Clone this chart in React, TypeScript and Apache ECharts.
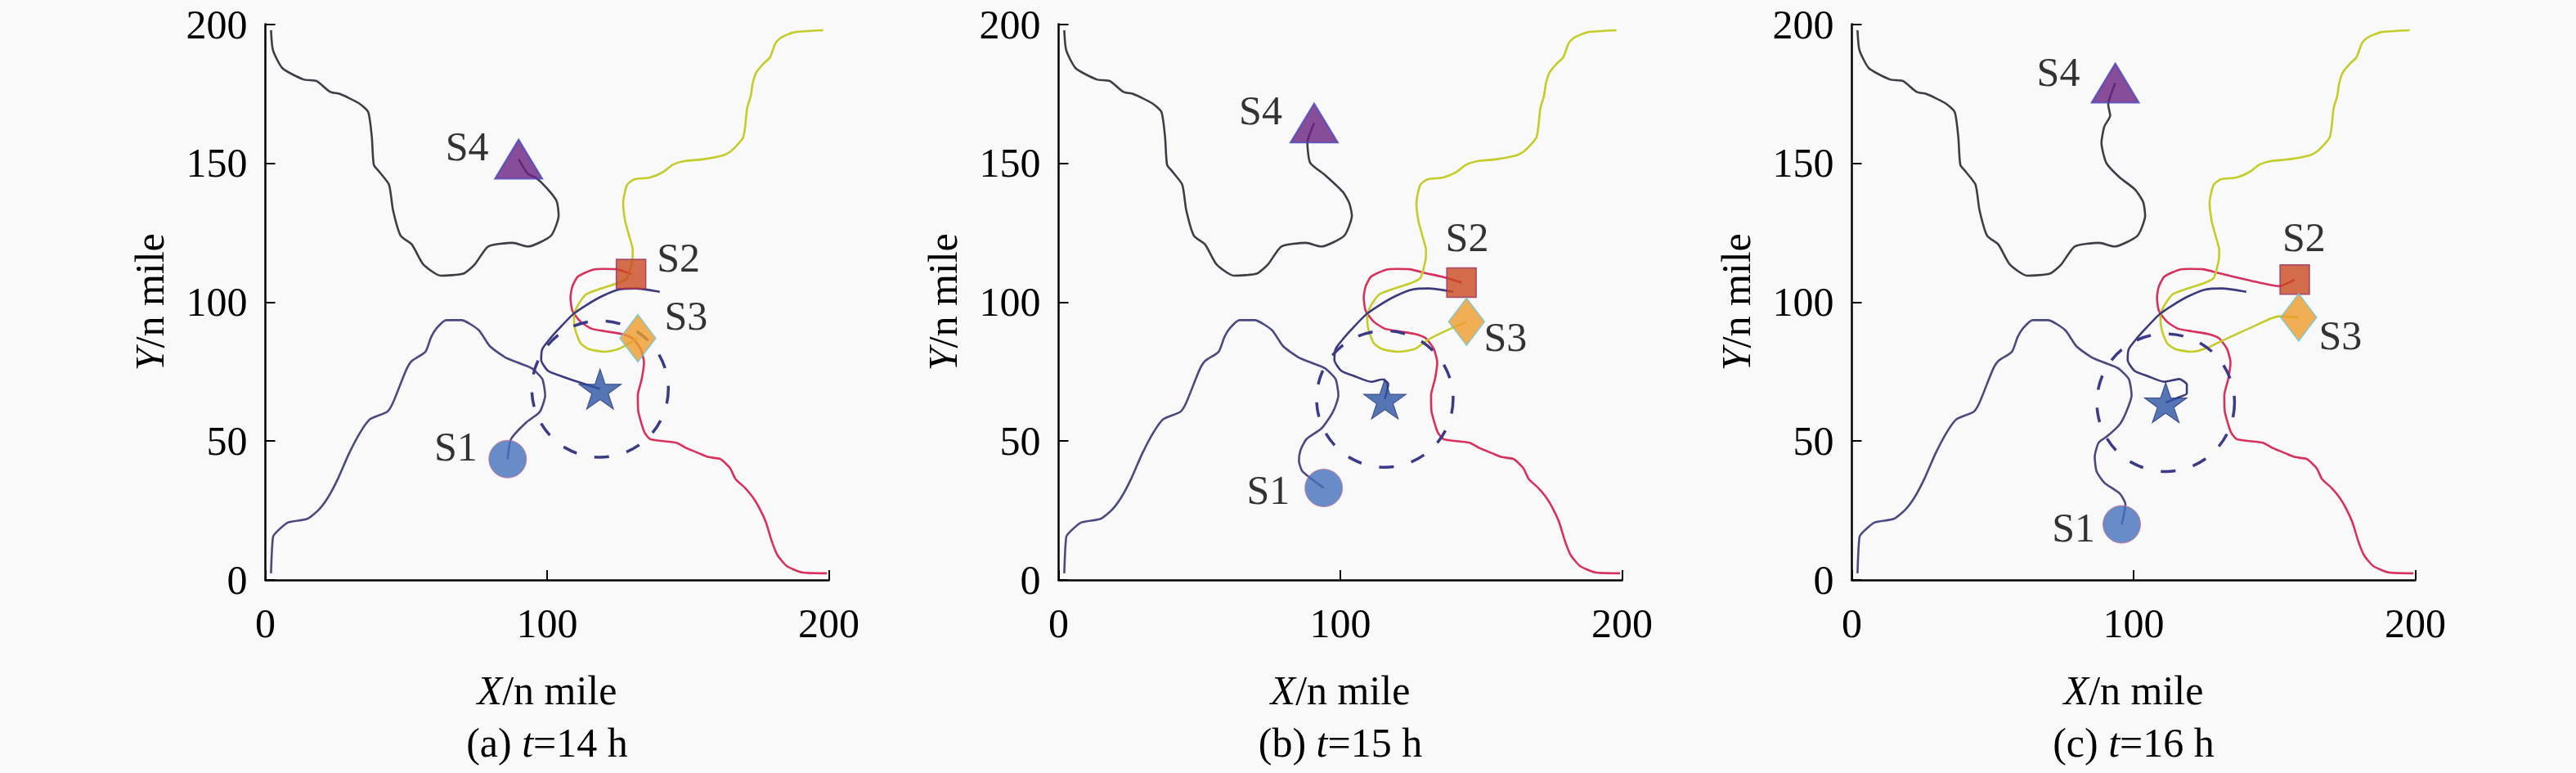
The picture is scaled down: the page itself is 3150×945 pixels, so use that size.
import React, { useEffect, useRef } from 'react';
import * as echarts from 'echarts';

// ---------------- data ----------------
const panelTags = ['(a)', '(b)', '(c)'];
const panelHours = ['14', '15', '16'];
const xTickMax = 200;
const yTickMax = 200;

// S4 trajectory (dark grey, from top-left)
const s4Base: number[][] = [[2, 197.8], [2.7, 190.6], [6.1, 184.1], [13.5, 180.1], [18.2, 179.5], [23, 175.6], [26.4, 174.9], [33.1, 171.6], [36.5, 168.4], [37.8, 159.2], [38.5, 149.4], [40.5, 146.8], [43.9, 142.2], [45.3, 133.1], [48, 123.9], [52, 120.7], [56.1, 113.5], [62.2, 109.5], [70.3, 110.2], [74.3, 113.5], [79.1, 120], [87.8, 121.3], [93.2, 120], [101.4, 123.9], [104.1, 131.1]];
const s4Tail: number[][][] = [
  [[103.4, 136.3], [100, 140.9], [95.9, 144.8], [93.2, 146.1], [89.9, 151.4]],
  [[103.2, 135.5], [100.9, 139.6], [94.8, 145.5], [89.3, 150.1], [88.3, 157.3], [90.7, 164.4]],
  [[103.4, 136], [100.5, 140.5], [95.1, 144.8], [90.3, 150.1], [88.6, 157.3], [89.6, 163.1], [91.7, 167.1], [91, 171], [93.5, 178.8]],
];

// S1 trajectory (blue-grey, from bottom-left)
const s1Base: number[][] = [[2, 2.4], [2.7, 15.4], [4.1, 17.4], [8.1, 20.7], [14.9, 22], [18.9, 25.2], [22.3, 29.8], [25.7, 36.3], [29.7, 45.5], [33.8, 53.3], [37.2, 57.9], [43.2, 60.5], [45.3, 63.8], [50, 75.6], [52, 78.8], [56.8, 82.1], [58.8, 87.3], [60.8, 90.6], [64.2, 93.5], [69.6, 93.5], [75.7, 89.9], [79.7, 84.1], [85.1, 80.1], [89.6, 78.2], [94.5, 76.2], [98.3, 72.3], [99.3, 66.4], [97.4, 60.5]];
const s1Tail: number[][][] = [
  [[92.5, 56.6], [87.2, 50.7], [86, 43.5]],
  [[93.4, 54.6], [88, 50.7], [85.9, 46.8], [85.3, 42.9], [86.6, 39], [94.1, 33.1]],
  [[95.1, 56], [91, 52], [87.6, 49.4], [86.2, 44.2], [86.9, 39], [89.6, 35], [95.1, 31.1], [97.1, 27.2], [95.8, 20]],
];

// Target (star) trajectory
const tgtBase: number[][] = [[140, 103.7], [131.3, 104.9], [125.5, 104.5], [119.7, 102.2], [113.8, 98.8], [109, 95.4], [104.2, 90.4], [101.2, 87], [98.3, 83.1], [97.9, 79.2], [100.3, 75.3], [105.1, 73.3], [110.9, 71.3]];
const tgtTail: number[][][] = [
  [[118.8, 68.7]],
  [[115, 72.2], [117, 70.5], [115.8, 65.1]],
  [[116.2, 72.3], [118.9, 70.3], [118.9, 67.1], [116.2, 65.8], [111.4, 63.8]],
];

// S2 trajectory (red, from bottom-right)
const s2Base: number[][] = [[199.3, 2.4], [190.5, 2.7], [185.1, 5], [181.8, 8.9], [179.7, 14.1], [177.7, 20.7], [175, 26.5], [173, 29.8], [170.3, 33.1], [166.9, 36.3], [164.9, 40.3], [161.5, 43.5], [157.4, 44.2], [154.1, 45.5], [149.3, 47.5], [145.9, 49.4], [139.9, 50.1], [136.5, 50.7], [134.5, 53.3], [132.4, 60.5], [132.2, 66.4], [133.6, 72.3], [134.4, 78.2], [133.2, 83.1], [130.3, 87], [126.4, 88.5], [120.6, 89.5], [115.8, 90.4], [111.9, 92.9], [109, 96.8], [108.3, 101.7], [109, 105.7], [110.9, 109.1], [115.8, 111.5], [120, 111.9], [124.5, 111.8]];
const s2Tail: number[][][] = [
  [[129.8, 110.1]],
  [[130.3, 110.4], [136.1, 109.1], [143, 107]],
  [[130.3, 110.4], [141.9, 107.6], [151.6, 105.7], [157.2, 108.1]],
];

// S3 trajectory (yellow-green, from top-right)
const s3Base: number[][] = [[198, 197.8], [187.8, 197.1], [183.1, 195.2], [181.1, 193.2], [179.1, 188], [177, 186], [174.3, 182.7], [173, 178.8], [172.3, 174.2], [171, 169.7], [170.3, 163.1], [169.6, 159.2], [167.6, 156.6], [164.9, 154], [162.2, 152.7], [155.4, 151.4], [148.6, 150.7], [144.6, 149.4], [141.2, 146.8], [136.5, 144.8], [131.1, 144.2], [128.4, 142.2], [127, 135.7], [127.7, 129.2], [129.1, 123.9], [130.4, 118.7], [130.3, 115.5], [128.4, 108.6], [124.5, 106.6], [118.7, 104.7], [113.8, 102.7], [110.9, 98.8], [109.5, 94.9], [110, 90], [111.9, 85.1], [114.8, 83.1], [120.6, 82.1]];
const s3Tail: number[][][] = [
  [[125.4, 83.1], [132.2, 87]],
  [[126.4, 83.1], [131.3, 86.5], [136.1, 89], [144.8, 92.9]],
  [[126.4, 83.6], [131.3, 86], [141.9, 90.9], [151.6, 94.9], [158.6, 94.5]],
];

// current positions per panel
const s1Pos = [[86, 43.5], [94.1, 33.1], [95.8, 20]];
const s2Pos = [[129.8, 110.1], [143, 107], [157.2, 108.1]];
const s3Pos = [[132.2, 87], [144.8, 92.9], [158.6, 94.5]];
const s4Pos = [[89.9, 151.4], [90.7, 164.4], [93.5, 178.8]];
const tgtPos = [[118.8, 68.7], [115.8, 65.1], [111.4, 63.8]];
const searchRadius = [24.4, 24.4, 24.6];

// label anchors per panel
const s1Lbl = [[67.6, 48.1], [74.4, 32.4], [78.7, 18.7]];
const s2Lbl = [[146.6, 116], [145, 123.3], [160.5, 123.3]];
const s3Lbl = [[149.3, 95.2], [158.6, 87.3], [173.4, 88]];
const s4Lbl = [[71.6, 156], [71.7, 169], [73.3, 182.7]];

// ---------------- layout / style ----------------
const FONT = 'Liberation Serif';
const FS = 50;
const FS_NAME = 50;
const GRID_LEFT0 = 324.5;
const GRID_STEP = 970;
const GRID_TOP = 29.5;
const GRID_W = 689;
const GRID_H = 679.5;

const STAR = 'path://M50,0 L61.8,35.4 L99,35.4 L69,57.3 L80.9,92.7 L50,70.8 L19.1,92.7 L31,57.3 L1,35.4 L38.2,35.4 Z';

function buildOption() {
  const grid: any[] = [];
  const xAxis: any[] = [];
  const yAxis: any[] = [];
  const series: any[] = [];
  const graphic: any[] = [];

  for (let k = 0; k < 3; k++) {
    const left = GRID_LEFT0 + k * GRID_STEP;
    grid.push({ left, top: GRID_TOP, width: GRID_W, height: GRID_H, containLabel: false });
    const axisCommon = {
      type: 'value',
      min: 0,
      gridIndex: k,
      axisLine: { show: true, lineStyle: { color: '#000', width: 2.5 } },
      axisTick: { show: true, inside: true, length: 12, lineStyle: { color: '#000', width: 2 } },
      splitLine: { show: false },
      axisLabel: { color: '#000', fontSize: FS, fontFamily: FONT },
    };
    xAxis.push({ ...axisCommon, max: xTickMax, interval: 100, axisLabel: { ...axisCommon.axisLabel, margin: 28 } });
    yAxis.push({ ...axisCommon, max: yTickMax, interval: 50, axisLabel: { ...axisCommon.axisLabel, margin: 22 } });

    const line = (name: string, data: number[][], color: string, z = 2) => ({
      type: 'line', name, xAxisIndex: k, yAxisIndex: k, data, showSymbol: false, symbol: 'none',
      smooth: 0.2, lineStyle: { color, width: 2.6 }, z, silent: true,
    });
    series.push(line('S4', s4Base.concat(s4Tail[k]), '#3d3d45'));
    series.push(line('S1', s1Base.concat(s1Tail[k]), '#4a4a80'));
    series.push(line('S2', s2Base.concat(s2Tail[k]), '#d8305c'));
    series.push(line('S3', s3Base.concat(s3Tail[k]), '#c4cc28'));
    series.push(line('T', tgtBase.concat(tgtTail[k]), '#3a3a7c'));

    series.push({
      type: 'custom', xAxisIndex: k, yAxisIndex: k, silent: true, z: 3,
      data: [[tgtPos[k][0], tgtPos[k][1], searchRadius[k]]],
      encode: { x: 0, y: 1 },
      renderItem: (params: any, api: any) => {
        const c = api.coord([api.value(0), api.value(1)]);
        const s = api.size([api.value(2), api.value(2)]);
        return {
          type: 'circle',
          shape: { cx: c[0], cy: c[1], r: (s[0] + s[1]) / 2 },
          style: { fill: 'none', stroke: '#3a3a86', lineWidth: 3.5, lineDash: [18, 22] },
        };
      },
    });

    series.push({
      type: 'scatter', xAxisIndex: k, yAxisIndex: k, silent: true, z: 5,
      data: [
        { value: s1Pos[k], symbol: 'circle', symbolSize: 46, itemStyle: { color: '#4470bc', borderColor: '#d8708c', borderWidth: 1 } },
        { value: s2Pos[k], symbol: 'rect', symbolSize: 36, itemStyle: { color: '#c9481f', borderColor: '#952f66', borderWidth: 1.5 } },
        { value: s3Pos[k], symbol: 'diamond', symbolSize: [44, 58], itemStyle: { color: '#ee9c2c', borderColor: '#66c8e0', borderWidth: 1.5 } },
        { value: s4Pos[k], symbol: 'triangle', symbolSize: [58, 48], itemStyle: { color: '#6c2280', borderColor: '#4848c0', borderWidth: 2 } },
        { value: tgtPos[k], symbol: STAR, symbolSize: [52, 49], itemStyle: { color: '#2d54a2', borderColor: '#203070', borderWidth: 1 } },
      ],
    });

    series.push({
      type: 'scatter', xAxisIndex: k, yAxisIndex: k, silent: true, z: 6, symbolSize: 0,
      label: { show: true, position: 'inside', formatter: (p: any) => p.name, color: '#000', fontSize: FS_NAME, fontFamily: FONT },
      data: [
        { name: 'S1', value: s1Lbl[k] },
        { name: 'S2', value: s2Lbl[k] },
        { name: 'S3', value: s3Lbl[k] },
        { name: 'S4', value: s4Lbl[k] },
      ],
    });

    const cx = left + GRID_W / 2;
    const rich = { i: { fontStyle: 'italic', fontSize: FS, fontFamily: FONT, fill: '#000' }, n: { fontSize: FS, fontFamily: FONT, fill: '#000' } };
    graphic.push({
      type: 'text', x: cx, y: 844, silent: true,
      style: { text: '{i|X}{n|/n mile}', rich, align: 'center', verticalAlign: 'middle', fontSize: FS, fontFamily: FONT, fill: '#000' },
    });
    graphic.push({
      type: 'text', x: cx, y: 908, silent: true,
      style: { text: `{n|${panelTags[k]} }{i|t}{n|=${panelHours[k]} h}`, rich, align: 'center', verticalAlign: 'middle', fontSize: FS, fontFamily: FONT, fill: '#000' },
    });
    graphic.push({
      type: 'text', x: left - 142, y: GRID_TOP + GRID_H / 2, rotation: Math.PI / 2, silent: true,
      style: { text: '{i|Y}{n|/n mile}', rich, align: 'center', verticalAlign: 'middle', fontSize: FS, fontFamily: FONT, fill: '#000' },
    });
  }

  return {
    animation: false,
    backgroundColor: '#f9f9f9',
    textStyle: { fontFamily: FONT },
    grid, xAxis, yAxis, series, graphic,
  };
}

export default function App() {
  const ref = useRef<HTMLDivElement>(null);
  useEffect(() => {
    if (!ref.current) return;
    const chart = echarts.init(ref.current, undefined, { renderer: 'svg' });
    chart.setOption(buildOption() as any);
    return () => chart.dispose();
  }, []);
  return <div ref={ref} style={{ position: 'fixed', left: 0, top: 0, width: 3150, height: 945 }} />;
}
